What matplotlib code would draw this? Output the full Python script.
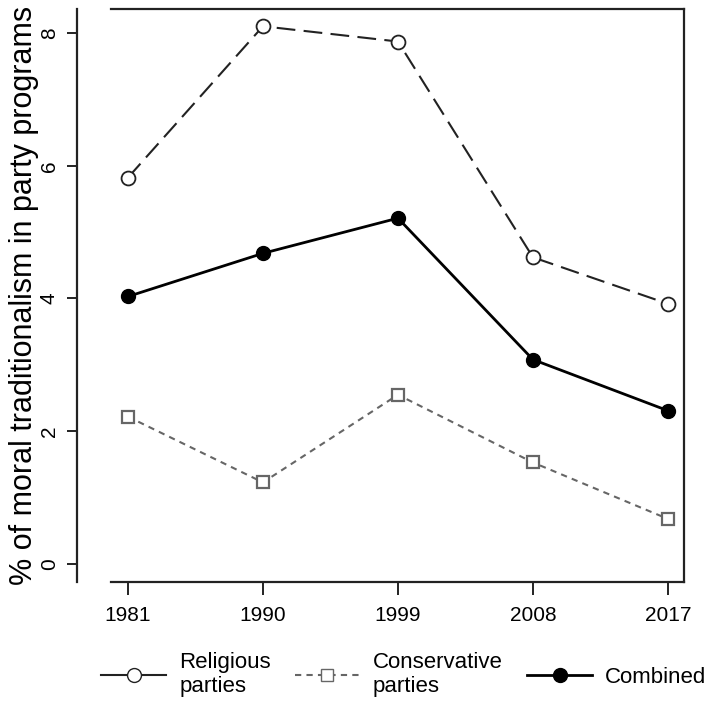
import matplotlib
matplotlib.use("Agg")
import matplotlib.pyplot as plt
from matplotlib.lines import Line2D

plt.rcParams['font.family'] = ['Liberation Sans', 'DejaVu Sans']

# data
years = [1981, 1990, 1999, 2008, 2017]
religious = [5.82, 8.10, 7.87, 4.62, 3.92]
conservative = [2.22, 1.23, 2.55, 1.53, 0.68]
combined = [4.03, 4.68, 5.21, 3.08, 2.31]
y_ticks = [0, 2, 4, 6, 8]
legend_labels = ["Religious\nparties", "Conservative\nparties", "Combined"]

fig = plt.figure(figsize=(7.06, 7.08), dpi=100)
ax = fig.add_axes([111 / 706, 126 / 708, 573 / 706, 573 / 708])

# el eje y va separado del recuadro (estilo R); hay que hacerlo antes de los ticks
for s in ax.spines.values():
    s.set_linewidth(1.6)
    s.set_color("#222222")
ax.spines['left'].set_position(('outward', 24.5))

# lineas de cada serie
ax.plot(years, religious, color="#222222", lw=1.5, dashes=(9, 4),
        marker="o", ms=10, mfc="white", mec="#222222", mew=1.3)
ax.plot(years, conservative, color="#666666", lw=1.5, dashes=(3, 2.5),
        marker="s", ms=9, mfc="white", mec="#666666", mew=1.6)
ax.plot(years, combined, color="black", lw=2.0,
        marker="o", ms=10, mfc="black", mec="black")

ax.set_xlim(1979.87, 2018.07)
ax.set_ylim(-0.27, 8.36)
ax.set_xticks(years)
ax.set_yticks(y_ticks)
ax.set_xticklabels([str(y) for y in years], fontsize=15)
ax.set_yticklabels([str(v) for v in y_ticks], fontsize=15, rotation=90, va="center")

ax.tick_params(axis='x', length=9, width=1.4, pad=8, color="#222222")
ax.tick_params(axis='y', length=7, width=1.4, pad=6, color="#222222")

ax.set_ylabel("% of moral traditionalism in party programs", fontsize=22, labelpad=1)

# leyenda abajo
handles = [
    Line2D([], [], color="#222222", lw=1.5, marker="o", ms=10, mfc="white", mec="#222222"),
    Line2D([], [], color="#666666", lw=1.5, dashes=(3, 2.5), marker="s", ms=9, mfc="white", mec="#666666"),
    Line2D([], [], color="black", lw=2.0, marker="o", ms=10, mfc="black", mec="black"),
]
fig.legend(handles, legend_labels, loc="center", bbox_to_anchor=(0.572, 0.047),
           ncol=3, frameon=False, fontsize=16, handlelength=2.9,
           handletextpad=0.6, columnspacing=1.1, labelspacing=0.15)

fig.savefig("out.png", dpi=100)
